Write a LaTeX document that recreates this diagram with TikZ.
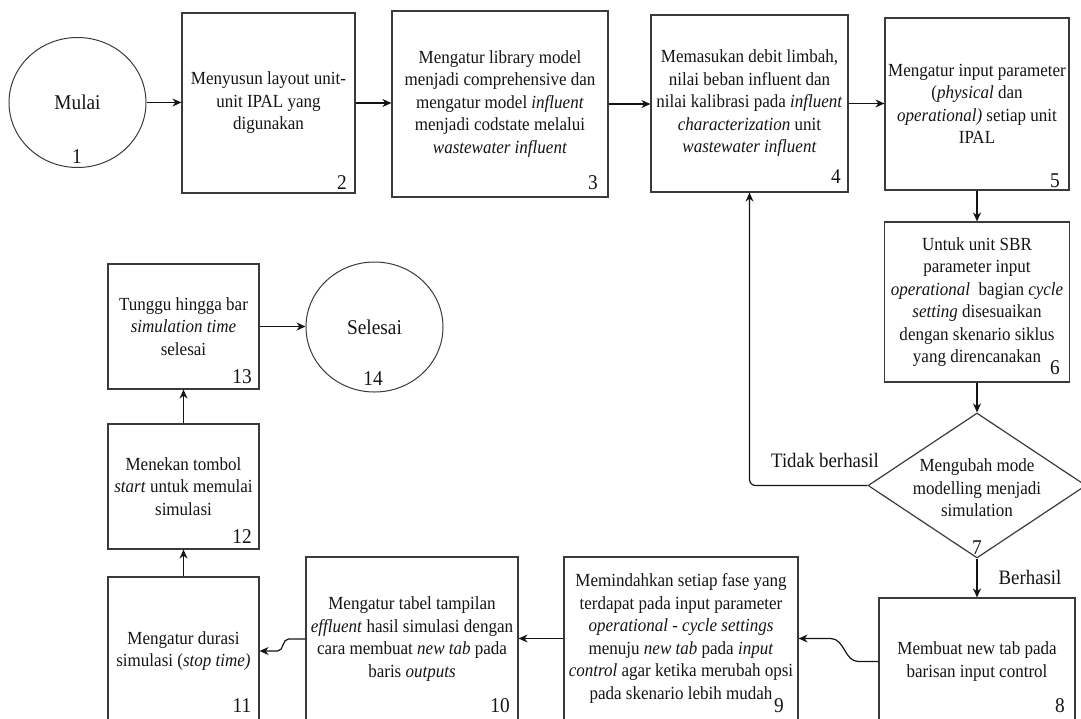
\documentclass[tikz,border=0pt]{standalone}
\usepackage{fontspec}
\setmainfont[FakeStretch=0.92]{Liberation Serif}
\usetikzlibrary{shapes.geometric,arrows.meta,calc}
\definecolor{linec}{HTML}{3A3A3A}
\definecolor{txt}{HTML}{141414}

\begin{document}
\begin{tikzpicture}[x=1pt,y=-1pt,
  every node/.style={text=txt},
  box/.style={draw=linec, line width=1.2pt, rectangle, align=center, inner sep=0pt,
    font=\fontsize{18.5}{22.5}\selectfont},
  term/.style={draw=linec, line width=1pt, ellipse, inner sep=0pt,
    minimum width=137pt, minimum height=130pt, font=\fontsize{21}{24}\selectfont},
  decide/.style={draw=linec, line width=1.2pt, diamond, inner sep=0pt,
    minimum width=218pt, minimum height=145pt},
  plain/.style={align=center, inner sep=0pt, font=\fontsize{18.5}{22.5}\selectfont},
  num/.style={inner sep=0pt, font=\fontsize{21}{21}\selectfont},
  lbl/.style={inner sep=0pt, font=\fontsize{20.5}{22}\selectfont},
  arr/.style={draw=txt, line width=1.2pt, -{Stealth[length=9pt,width=8pt]}}
]
\useasboundingbox (0,0) rectangle (1081,718);
\clip (0,0) rectangle (1081,718);

% ---- process steps ----
\node[term] (c1) at (77.5,102.5) {Mulai};
\node[num] (n1) at (77,157) {1};

\node[box, minimum width=173pt, minimum height=180pt] (b2) at (268.5,103)
  {Menyusun layout unit-\\unit IPAL yang\\digunakan};
\node[num] (n2) at (342,183) {2};

\node[box, minimum width=216pt, minimum height=186pt] (b3) at (500,104)
  {Mengatur library model\\menjadi comprehensive dan\\mengatur model \textit{influent}\\menjadi codstate melalui\\\textit{wastewater influent}};
\node[num] (n3) at (593,183) {3};

\node[box, minimum width=197pt, minimum height=177pt] (b4) at (749.5,103.5)
  {Memasukan debit limbah,\\nilai beban influent dan\\nilai kalibrasi pada \textit{influent}\\\textit{characterization} unit\\\textit{wastewater influent}};
\node[num] (n4) at (836,177) {4};

\node[box, minimum width=184pt, minimum height=172pt] (b5) at (977,104)
  {Mengatur input parameter\\(\textit{physical} dan\\\textit{operational)} setiap unit\\IPAL};
\node[num] (n5) at (1055,181) {5};

\node[box, minimum width=185pt, minimum height=160pt] (b6) at (977,302)
  {Untuk unit SBR\\parameter input\\\textit{operational}\ \ bagian \textit{cycle}\\\textit{setting} disesuaikan\\dengan skenario siklus\\yang direncanakan\hspace{22pt}};
\node[num] (n6) at (1055,368) {6};

\node[decide] (d7) at (977,485.5) {};
\node[plain] (t7) at (977,488) {Mengubah mode\\modelling menjadi\\simulation};
\node[num] (n7) at (977,548) {7};

\node[box, minimum width=196pt, minimum height=127pt] (b8) at (977,661.5)
  {Membuat new tab pada\\barisan input control};
\node[num] (n8) at (1060,706) {8};

\node[box, minimum width=234pt, minimum height=163pt] (b9) at (681,638.5)
  {Memindahkan setiap fase yang\\terdapat pada input parameter\\\textit{operational - cycle settings}\\menuju \textit{new tab} pada \textit{input}\\\textit{control} agar ketika merubah opsi\\pada skenario lebih mudah\hspace{14pt}};
\node[num] (n9) at (779,706) {9};

\node[box, minimum width=212pt, minimum height=164pt] (b10) at (412,639)
  {Mengatur tabel tampilan\\\textit{effluent} hasil simulasi dengan\\cara membuat \textit{new tab} pada\\baris \textit{outputs}\hspace{48pt}};
\node[num] (n10) at (500,706) {10};

\node[box, minimum width=151pt, minimum height=148pt] (b11) at (183.5,651)
  {Mengatur durasi\\simulasi (\textit{stop time)}};
\node[num] (n11) at (242,706) {11};

\node[box, minimum width=151pt, minimum height=125pt] (b12) at (183.5,486.5)
  {Menekan tombol\\\textit{start} untuk memulai\\simulasi};
\node[num] (n12) at (242,537) {12};

\node[box, minimum width=151pt, minimum height=125pt] (b13) at (183.5,326.5)
  {Tunggu hingga bar\\\textit{simulation time}\\selesai};
\node[num] (n13) at (242,377) {13};

\node[term] (c14) at (374.5,327) {Selesai};
\node[num] (n14) at (373,379) {14};

% ---- branch labels ----
\node[lbl] (lno) at (825,460) {Tidak berhasil};
\node[lbl] (lyes) at (1030,577) {Berhasil};

% ---- connectors ----
\draw[arr] (c1.east) -- (c1.east -| b2.west);
\draw[arr] (b2.east) -- (b2.east -| b3.west);
\draw[arr] (b3.east) -- (b3.east -| b4.west);
\draw[arr] (b4.east) -- (b4.east -| b5.west);
\draw[arr] (b5.south) -- (b6.north);
\draw[arr] (b6.south) -- (d7.north);
\draw[arr] (d7.south) -- (b8.north);
\draw[arr, rounded corners=6pt] (d7.west) -| (b4.south);
\draw[arr] (b8.west) -- ++(-20,0) to[out=180,in=0] ($(b9.east)+(32,0)$) -- (b9.east);
\draw[arr] (b9.west) -- (b9.west -| b10.east);
\draw[arr] (b10.west) -- ++(-17,0) to[out=180,in=0] ($(b11.east)+(18,0)$) -- (b11.east);
\draw[arr] (b11.north) -- (b12.south);
\draw[arr] (b12.north) -- (b13.south);
\draw[arr] (b13.east) -- (b13.east -| c14.west);
\end{tikzpicture}
\end{document}
